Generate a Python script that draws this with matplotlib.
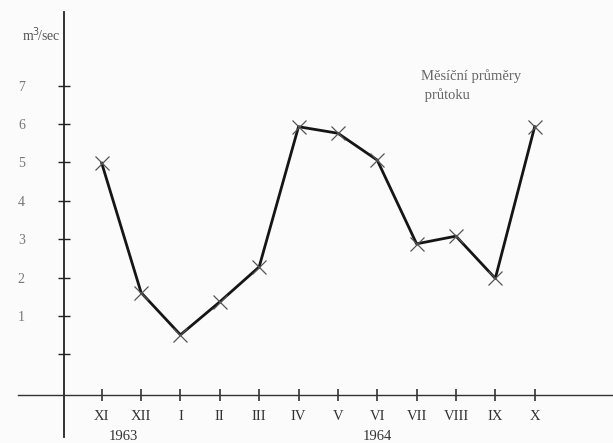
import matplotlib
matplotlib.use('Agg')
import matplotlib.pyplot as plt

# monthly mean discharge, hydrological year XI 1963 - X 1964
months = ['XI', 'XII', 'I', 'II', 'III', 'IV', 'V', 'VI', 'VII', 'VIII', 'IX', 'X']
flow = [4.98, 1.61, 0.51, 1.37, 2.28, 5.93, 5.76, 5.06, 2.88, 3.08, 1.98, 5.93]
yticks = [0, 1, 2, 3, 4, 5, 6, 7]
ylabels = ['', '1', '2', '3', '4', '5', '6', '7']

plt.rcParams['font.family'] = ['Liberation Serif', 'DejaVu Serif']

fig = plt.figure(figsize=(6.13, 4.43), dpi=100)
ax = fig.add_axes([0, 0, 1, 1])
fig.patch.set_facecolor('#fbfbfb')
ax.set_facecolor('#fbfbfb')

x = list(range(len(months)))
ax.plot(x, flow, color='#151515', lw=2.0, zorder=3)
ax.plot(x, flow, ls='none', marker='x', ms=10, mew=0.9, color='#555555', zorder=4)

ax.set_xlim(-2.585, 12.99)
ax.set_ylim(-2.307, 9.23)

# axis crossing like the hand-drawn original
for s in ['top', 'right']:
    ax.spines[s].set_visible(False)
ax.spines['left'].set_position(('data', -0.95))
ax.spines['bottom'].set_position(('data', -1.057))
ax.spines['left'].set_bounds(-2.15, 8.92)
ax.spines['bottom'].set_bounds(-2.13, 12.99)
ax.spines['left'].set_linewidth(1.3)
ax.spines['bottom'].set_linewidth(1.0)
ax.spines['left'].set_color('#222222')
ax.spines['bottom'].set_color('#333333')

ax.set_xticks(x)
ax.set_xticklabels(months, fontsize=10.5, color='#333333')
ax.set_yticks(yticks)
ax.set_yticklabels(ylabels, fontsize=10, color='#777777')
ax.tick_params(axis='x', direction='inout', length=9, width=1.1, pad=6, colors='#222222', labelcolor='#333333')
ax.tick_params(axis='y', direction='inout', length=9, width=1.0, pad=24, colors='#222222', labelcolor='#777777')

ax.text(0.55, -2.15, '1963', ha='center', va='center', fontsize=10.5, color='#333333')
ax.text(7.0, -2.15, '1964', ha='center', va='center', fontsize=10.5, color='#333333')
ax.text(-1.05, 8.32, 'm$^3\\!$/sec', ha='right', va='center', fontsize=10, color='#555555')
ax.text(8.1, 7.0, 'Měsíční průměry\n průtoku', ha='left', va='center', fontsize=10.5,
        color='#666666', linespacing=1.45)

fig.savefig('out.png', dpi=100, facecolor=fig.get_facecolor())
